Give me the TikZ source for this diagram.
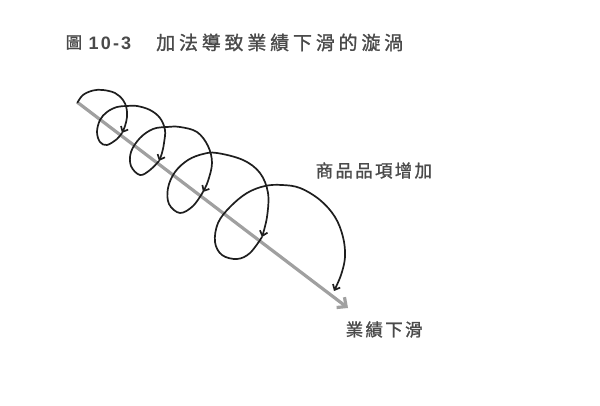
\documentclass[tikz,border=0pt]{standalone}
\usepackage{fontspec}
\usetikzlibrary{arrows.meta}
\newfontfamily\cjktitle[LetterSpace=20,FakeBold=1.2]{Noto Sans CJK TC}
\newfontfamily\cjkfig[FakeBold=1.2]{Noto Sans CJK TC}
\newfontfamily\cjklabel[LetterSpace=13,FakeBold=1.2]{Noto Sans CJK TC}
\newfontfamily\numfont[LetterSpace=12]{Liberation Sans}
\definecolor{txtgray}{HTML}{4A4A4A}
\definecolor{axisgray}{HTML}{A0A0A0}
\definecolor{curvecol}{HTML}{1E1E1E}
\begin{document}
\begin{tikzpicture}[x=1pt,y=-1pt,
  helix/.style={draw=curvecol, line width=1.7pt, line cap=round,
    -{Straight Barb[length=4.5pt,width=8pt]}},
  axisline/.style={draw=axisgray, line width=3.2pt,
    -{Straight Barb[length=7pt,width=13pt]}},
  lbl/.style={text=txtgray, inner sep=0pt}]
\useasboundingbox (0,0) rectangle (600,406);
\fill[white] (0,0) rectangle (600,406);

% title
\node[lbl, anchor=west, font=\cjkfig\fontsize{16.5pt}{16.5pt}\selectfont] (fig) at (65.5,42.5) {圖};
\node[lbl, anchor=west, font=\numfont\bfseries\fontsize{18pt}{18pt}\selectfont] (num) at (88.5,43) {10-3};
\node[lbl, anchor=west, font=\cjktitle\fontsize{19pt}{19pt}\selectfont] (title) at (156,42.5) {加法導致業績下滑的漩渦};

% axis
\coordinate (s) at (77,102);
\coordinate (e) at (348,308);
\draw[axisline] (s) -- (e);

% spiral
\draw[helix] plot[smooth, tension=0.6] coordinates {(77.5,102.5) (83,95) (93,90.5) (103,90) (115,93) (123,100) (126.5,108) (127,117) (125,126) (122,133)};
\draw[helix] plot[smooth, tension=0.6] coordinates {(122,133) (117,139) (107,145) (100,142) (97,132) (100,120) (107,112) (117,107) (127,106) (137,106) (150,110) (160,118) (165,130) (164,143) (162,153) (159,161)};
\draw[helix] plot[smooth, tension=0.6] coordinates {(159,161) (150,170) (140,175) (131,166) (131,152) (140,138) (153,129) (167,127) (180,127) (197,132) (208,146) (212,163) (208,181) (203,192)};
\draw[helix] plot[smooth, tension=0.6] coordinates {(203,192) (193,206) (180,213) (169,204) (168,188) (175,172) (188,160) (203,154) (217,153) (243,160) (260,173) (268,193) (267,217) (262,237)};
\draw[helix] plot[smooth, tension=0.6] coordinates {(262,237) (250,253) (237,259) (222,255) (215,242) (218,223) (230,207) (247,193) (265,186) (282,185) (300,188) (320,200) (335,217) (343,237) (345,257) (341,275) (334,291)};

% labels
\node[lbl, anchor=west, font=\cjklabel\fontsize{17.5pt}{17.5pt}\selectfont] (inc) at (315.5,170.5) {商品品項增加};
\node[lbl, anchor=west, font=\cjklabel\fontsize{17.5pt}{17.5pt}\selectfont] (dec) at (345.5,329.5) {業績下滑};
\end{tikzpicture}
\end{document}
